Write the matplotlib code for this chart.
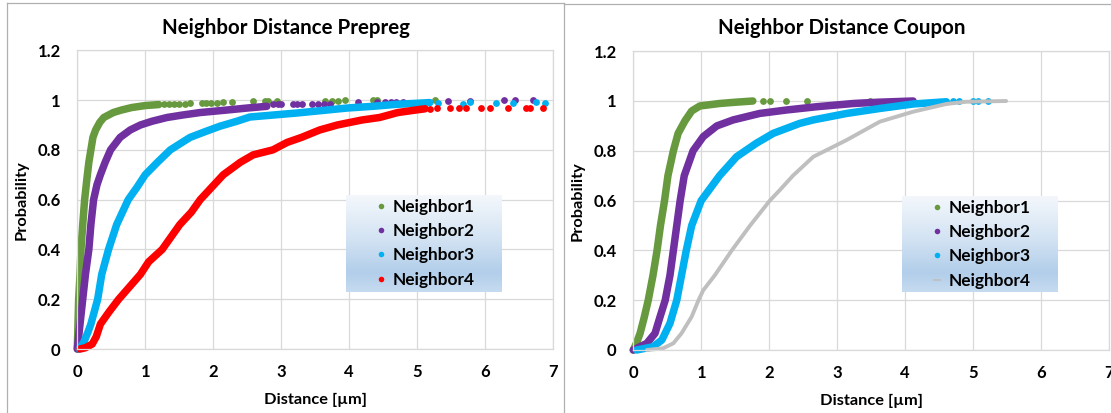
import numpy as np
import matplotlib
matplotlib.use("Agg")
import matplotlib.pyplot as plt
from matplotlib.lines import Line2D
from matplotlib.colors import LinearSegmentedColormap

# ---------------- data ----------------
series_labels = ["Neighbor1", "Neighbor2", "Neighbor3", "Neighbor4"]
x_ticks = [0, 1, 2, 3, 4, 5, 6, 7]
y_ticks = [0, 0.2, 0.4, 0.6, 0.8, 1.0, 1.2]
y_tick_labels = ["0", "0.2", "0.4", "0.6", "0.8", "1", "1.2"]

# Prepreg - dense part of each cumulative curve
prepreg_n1_x = [0.00, 0.01, 0.02, 0.04, 0.054, 0.08, 0.108, 0.14, 0.17, 0.20, 0.23, 0.27, 0.33, 0.39, 0.46, 0.53, 0.65, 0.80, 1.00, 1.20]
prepreg_n1_y = [0.00, 0.10, 0.20, 0.30, 0.40, 0.50, 0.60, 0.68, 0.75, 0.80, 0.85, 0.88, 0.91, 0.93, 0.94, 0.95, 0.96, 0.97, 0.978, 0.982]
prepreg_n1_tail_x = [1.27, 1.35, 1.42, 1.50, 1.58, 1.66, 1.83, 1.90, 1.97, 2.05, 2.15, 2.28, 2.59, 2.76, 2.81, 2.94, 3.65, 3.75, 3.84, 3.94, 4.36, 4.41, 5.26]
prepreg_n1_tail_y = [0.983, 0.984, 0.985, 0.986, 0.986, 0.987, 0.988, 0.989, 0.990, 0.990, 0.991, 0.993, 0.995, 0.996, 0.997, 0.997, 0.998, 0.998, 0.998, 0.999, 0.999, 0.999, 1.0]

prepreg_n2_x = [0.00, 0.04, 0.08, 0.12, 0.17, 0.20, 0.24, 0.29, 0.34, 0.41, 0.49, 0.63, 0.78, 0.93, 1.10, 1.32, 1.55, 1.81, 2.20, 2.50, 2.79]
prepreg_n2_y = [0.00, 0.10, 0.20, 0.30, 0.40, 0.50, 0.60, 0.66, 0.70, 0.75, 0.80, 0.85, 0.88, 0.90, 0.915, 0.93, 0.94, 0.95, 0.96, 0.968, 0.975]
prepreg_n2_tail_x = [2.88, 2.95, 3.00, 3.18, 3.24, 3.31, 3.46, 3.55, 3.63, 3.72, 4.13, 4.41, 4.53, 4.62, 4.70, 4.79, 5.46, 5.78, 6.29, 6.45, 6.71]
prepreg_n2_tail_y = [0.983, 0.983, 0.983, 0.985, 0.985, 0.985, 0.986, 0.986, 0.986, 0.986, 0.991, 0.992, 0.992, 0.992, 0.992, 0.992, 0.995, 0.998, 0.999, 0.999, 0.999]

prepreg_n3_x = [0.03, 0.10, 0.16, 0.20, 0.25, 0.30, 0.36, 0.46, 0.58, 0.75, 0.88, 1.00, 1.18, 1.37, 1.66, 1.90, 2.10, 2.35, 2.54, 2.80, 3.23, 3.60, 3.97, 4.35, 4.70, 5.00, 5.19]
prepreg_n3_y = [0.00, 0.03, 0.07, 0.10, 0.15, 0.20, 0.30, 0.40, 0.50, 0.60, 0.65, 0.70, 0.75, 0.80, 0.85, 0.875, 0.895, 0.915, 0.932, 0.938, 0.948, 0.958, 0.968, 0.975, 0.983, 0.987, 0.990]
prepreg_n3_tail_x = [5.31, 5.68, 5.78, 6.17, 6.41, 6.76, 6.88]
prepreg_n3_tail_y = [0.987, 0.985, 0.991, 0.987, 0.989, 0.991, 0.987]

prepreg_n4_x = [0.04, 0.12, 0.22, 0.28, 0.34, 0.47, 0.61, 0.77, 0.93, 1.05, 1.25, 1.38, 1.51, 1.68, 1.81, 1.98, 2.15, 2.40, 2.59, 2.88, 3.09, 3.30, 3.57, 3.83, 4.19, 4.45, 4.72, 4.98, 5.12]
prepreg_n4_y = [0.00, 0.005, 0.02, 0.05, 0.10, 0.15, 0.20, 0.25, 0.30, 0.35, 0.40, 0.45, 0.50, 0.55, 0.60, 0.65, 0.70, 0.75, 0.78, 0.80, 0.83, 0.85, 0.88, 0.90, 0.92, 0.93, 0.95, 0.96, 0.965]
prepreg_n4_tail_x = [5.19, 5.30, 5.49, 5.62, 5.72, 5.95, 6.07, 6.34, 6.61, 6.66, 6.85]
prepreg_n4_tail_y = [0.966, 0.968, 0.968, 0.968, 0.970, 0.968, 0.970, 0.970, 0.968, 0.970, 0.970]

# Coupon
coupon_n1_x = [0.00, 0.05, 0.10, 0.16, 0.22, 0.29, 0.35, 0.40, 0.46, 0.51, 0.59, 0.66, 0.76, 0.86, 0.98, 1.27, 1.50, 1.76]
coupon_n1_y = [0.00, 0.03, 0.067, 0.13, 0.20, 0.30, 0.40, 0.50, 0.60, 0.70, 0.80, 0.87, 0.92, 0.96, 0.98, 0.99, 0.995, 1.0]
coupon_n1_tail_x = [1.91, 2.02, 2.25, 2.56, 3.48, 3.87]
coupon_n1_tail_y = [1.0, 1.0, 1.0, 1.0, 1.0, 1.0]

coupon_n2_x = [0.00, 0.20, 0.32, 0.39, 0.47, 0.54, 0.59, 0.64, 0.69, 0.75, 0.88, 1.03, 1.23, 1.47, 1.86, 2.26, 2.70, 3.24, 3.60, 4.12]
coupon_n2_y = [0.00, 0.027, 0.067, 0.13, 0.20, 0.30, 0.40, 0.50, 0.60, 0.70, 0.80, 0.857, 0.90, 0.924, 0.95, 0.964, 0.977, 0.99, 0.995, 1.0]

coupon_n3_x = [0.05, 0.29, 0.42, 0.54, 0.64, 0.71, 0.78, 0.86, 1.00, 1.27, 1.52, 1.81, 2.06, 2.45, 2.65, 3.14, 3.63, 4.12, 4.61]
coupon_n3_y = [0.00, 0.013, 0.04, 0.107, 0.20, 0.30, 0.40, 0.50, 0.60, 0.70, 0.776, 0.83, 0.87, 0.91, 0.924, 0.95, 0.97, 0.988, 0.997]
coupon_n3_tail_x = [4.71, 4.80, 5.00, 5.07, 5.22]
coupon_n3_tail_y = [1.0, 1.0, 1.0, 1.0, 1.0]

coupon_n4_x = [0.20, 0.44, 0.59, 0.71, 0.86, 0.96, 1.03, 1.20, 1.45, 1.72, 2.01, 2.16, 2.35, 2.65, 3.14, 3.63, 4.12, 4.61, 4.90, 5.49]
coupon_n4_y = [0.00, 0.007, 0.027, 0.067, 0.134, 0.20, 0.24, 0.30, 0.40, 0.50, 0.60, 0.643, 0.70, 0.776, 0.843, 0.917, 0.957, 0.988, 0.997, 1.0]
coupon_n4_tail_x = [5.79]
coupon_n4_tail_y = [1.0]

# ---------------- style ----------------
C_GREEN = "#67993E"
C_PURPLE = "#7030A0"
C_CYAN = "#00B0F0"
C_RED = "#FF0000"
C_GREY = "#BFBFBF"
GRID = "#D9D9D9"

plt.rcParams['font.family'] = ['Lato', 'DejaVu Sans']

W, H = 1111, 413
fig = plt.figure(figsize=(W / 100, H / 100), dpi=100)
fig.patch.set_facecolor("white")


def fx(px):
    return px / W


def fy(py):
    return 1 - py / H


def make_axes(x0, x1, ytop, ybot):
    ax = fig.add_axes([fx(x0), fy(ybot), (x1 - x0) / W, (ybot - ytop) / H])
    ax.set_xlim(0, 7)
    ax.set_ylim(0, 1.2)
    ax.set_xticks(x_ticks)
    ax.set_xticklabels([str(t) for t in x_ticks])
    ax.set_yticks(y_ticks)
    ax.set_yticklabels(y_tick_labels)
    ax.grid(True, color=GRID, lw=0.9)
    ax.set_axisbelow(True)
    for s in ax.spines.values():
        s.set_color(GRID)
        s.set_linewidth(0.9)
    ax.tick_params(length=0, labelsize=12)
    ax.tick_params(axis='x', pad=10.5)
    ax.tick_params(axis='y', pad=12)
    for lab in ax.get_xticklabels() + ax.get_yticklabels():
        lab.set_fontweight('bold')
    return ax


def dense(ax, x, y, c, lw=5.4):
    ax.plot(x, y, color=c, lw=lw, solid_capstyle='round', solid_joinstyle='round', clip_on=False)


def tail(ax, x, y, c, marker='o', ms=4.9):
    ax.plot(x, y, ls='none', marker=marker, ms=ms, color=c, mec=c, mew=0, clip_on=False)


def gradient_legend(x0, x1, ytop, ybot, handles):
    lax = fig.add_axes([fx(x0), fy(ybot), (x1 - x0) / W, (ybot - ytop) / H])
    cmap = LinearSegmentedColormap.from_list(
        "lg", [(0.0, "#F4F8FC"), (0.45, "#D3E3F3"), (0.8, "#B2CEEA"), (1.0, "#C6DBF0")])
    grad = np.linspace(0, 1, 256).reshape(-1, 1)
    lax.imshow(grad, aspect='auto', cmap=cmap, extent=[0, 1, 0, 1], origin='upper')
    lax.set_xlim(0, 1)
    lax.set_ylim(0, 1)
    lax.set_axis_off()
    lax.legend(handles, series_labels, loc='center', bbox_to_anchor=(0.5, 0.5),
               frameon=False, prop={'size': 12.4, 'weight': 'bold'},
               handlelength=0.9, handletextpad=0.25, labelspacing=0.48,
               borderpad=0, borderaxespad=0)
    return lax


# ---------------- left panel: Prepreg ----------------
axL = make_axes(77.3, 552.7, 50.3, 349)
dense(axL, prepreg_n1_x, prepreg_n1_y, C_GREEN)
tail(axL, prepreg_n1_tail_x, prepreg_n1_tail_y, C_GREEN)
dense(axL, prepreg_n2_x, prepreg_n2_y, C_PURPLE)
tail(axL, prepreg_n2_tail_x, prepreg_n2_tail_y, C_PURPLE)
dense(axL, prepreg_n3_x, prepreg_n3_y, C_CYAN)
tail(axL, prepreg_n3_tail_x, prepreg_n3_tail_y, C_CYAN)
dense(axL, prepreg_n4_x, prepreg_n4_y, C_RED)
tail(axL, prepreg_n4_tail_x, prepreg_n4_tail_y, C_RED)

# ---------------- right panel: Coupon ----------------
axR = make_axes(633.3, 1108.7, 51.2, 350)
dense(axR, coupon_n1_x, coupon_n1_y, C_GREEN)
tail(axR, coupon_n1_tail_x, coupon_n1_tail_y, C_GREEN)
dense(axR, coupon_n2_x, coupon_n2_y, C_PURPLE)
dense(axR, coupon_n3_x, coupon_n3_y, C_CYAN)
tail(axR, coupon_n3_tail_x, coupon_n3_tail_y, C_CYAN)
dense(axR, coupon_n4_x, coupon_n4_y, C_GREY, lw=2.8)
tail(axR, coupon_n4_tail_x, coupon_n4_tail_y, C_GREY, marker='_', ms=6)

# ---------------- legends ----------------
hL = [Line2D([], [], ls='none', marker='o', ms=4, color=c, mew=0)
      for c in (C_GREEN, C_PURPLE, C_CYAN, C_RED)]
hR = [Line2D([], [], ls='none', marker='o', ms=4, color=c, mew=0)
      for c in (C_GREEN, C_PURPLE, C_CYAN)]
hR.append(Line2D([], [], ls='none', marker='_', ms=6, color=C_GREY, mew=1.2))
gradient_legend(346, 502, 195, 291.7, hL)
gradient_legend(902, 1058, 196, 292.3, hR)

# ---------------- titles and axis labels ----------------
fig.text(fx(286), fy(27.5), "Neighbor Distance Prepreg", ha='center', va='center',
         fontsize=14.8, fontweight='bold')
fig.text(fx(842), fy(27.5), "Neighbor Distance Coupon", ha='center', va='center',
         fontsize=14.8, fontweight='bold')
fig.text(fx(315), fy(400), "Distance [µm]", ha='center', va='center',
         fontsize=11.8, fontweight='bold')
fig.text(fx(871), fy(401), "Distance [µm]", ha='center', va='center',
         fontsize=11.8, fontweight='bold')
fig.text(fx(22), fy(200), "Probability", ha='center', va='center', rotation=90,
         fontsize=11.8, fontweight='bold')
fig.text(fx(578), fy(201), "Probability", ha='center', va='center', rotation=90,
         fontsize=11.8, fontweight='bold')

# ---------------- chart-area borders ----------------
BORDER = "#B0B0B0"
for (xa, ya, xb, yb) in [(7, 2.7, 564, 2.7), (7, 2.7, 7, 413), (564, 2.7, 564, 413),
                         (564, 4, 1111, 4)]:
    fig.add_artist(Line2D([fx(xa), fx(xb)], [fy(ya), fy(yb)], transform=fig.transFigure,
                          color=BORDER, lw=0.9))

fig.savefig("out.png", dpi=100, facecolor="white")
